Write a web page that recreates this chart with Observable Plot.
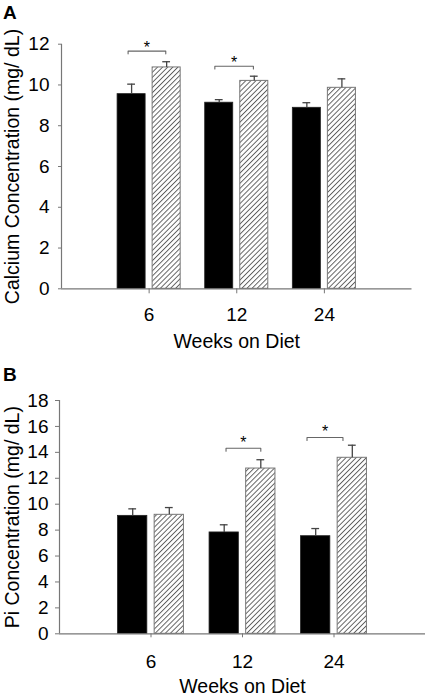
<!DOCTYPE html>
<html><head><meta charset="utf-8">
<script src="https://cdn.jsdelivr.net/npm/d3@7"></script>
<script src="https://cdn.jsdelivr.net/npm/@observablehq/plot@0.6"></script>
<style>
body{margin:0;background:#fff;font-family:"Liberation Sans",Arial,sans-serif;}
#wrap{position:relative;width:425px;height:697px;overflow:hidden;}
.panel{position:absolute;left:0;}
.tag{position:absolute;left:3px;font-weight:bold;font-size:19px;line-height:1;z-index:2;}
svg{display:block;}
</style></head><body>
<div id="wrap">
<div id="pA" class="panel" style="top:0"></div>
<div id="pB" class="panel" style="top:355px"></div>
<div class="tag" style="top:3px">A</div>
<div class="tag" style="top:365px">B</div>
</div>
<script>
// ---- data ----
const weeks = ["6", "12", "24"];
const xLabel = "Weeks on Diet";

// Panel A: calcium
const caLabel = "Calcium Concentration (mg/ dL)";
const caTicks = [0, 2, 4, 6, 8, 10, 12];
const caControl = [9.55, 9.13, 8.88];
const caControlErr = [0.49, 0.15, 0.25];
const caDiet = [10.86, 10.20, 9.86];
const caDietErr = [0.28, 0.23, 0.44];
const caSigWeek = [1, 2];          // index position of week (1 = 6 wk)
const caSigFrom = [-0.24, -0.25];
const caSigTo = [0.19, 0.19];
const caSigY = [11.66, 10.92];

// Panel B: Pi
const piLabel = "Pi Concentration (mg/ dL)";
const piTicks = [0, 2, 4, 6, 8, 10, 12, 14, 16, 18];
const piControl = [9.10, 7.82, 7.53];
const piControlErr = [0.54, 0.59, 0.59];
const piDiet = [9.18, 12.75, 13.58];
const piDietErr = [0.56, 0.68, 0.97];
const piSigWeek = [2, 3];
const piSigFrom = [-0.18, -0.295];
const piSigTo = [0.20, 0.098];
const piSigY = [14.32, 15.15];

function panel(o) {
  const rows = weeks.map((w, i) => ({
    c: i + 1, control: o.control[i], controlTop: o.control[i] + o.controlErr[i],
    diet: o.diet[i], dietTop: o.diet[i] + o.dietErr[i]
  }));
  const plotH = o.height - o.marginTop - o.marginBottom;
  const plotW = 425 - o.marginLeft - o.marginRight;
  const yMax = o.ticks[o.ticks.length - 1];
  const drop = o.dropPx * yMax / plotH;
  const cap = 3.9 * 4 / plotW;
  const sig = o.sigWeek.map((c, i) => ({
    id: i, x1: c + o.sigFrom[i], x2: c + o.sigTo[i], y: o.sigY[i]
  }));
  const bracketPts = sig.flatMap(s => [
    {id: s.id, x: s.x1, y: s.y - drop}, {id: s.id, x: s.x1, y: s.y},
    {id: s.id, x: s.x2, y: s.y}, {id: s.id, x: s.x2, y: s.y - drop}
  ]);
  const errs = rows.flatMap(d => [
    {x: d.c - 0.2, y1: d.control, y2: d.controlTop},
    {x: d.c + 0.2, y1: d.diet, y2: d.dietTop}
  ]);
  const svg = Plot.plot({
    width: 425, height: o.height,
    marginTop: o.marginTop, marginBottom: o.marginBottom,
    marginLeft: o.marginLeft, marginRight: o.marginRight,
    style: {fontFamily: "Liberation Sans, Arial, sans-serif", fontSize: "19px", color: "#000", background: "#fff"},
    x: {domain: [0, 4]},
    y: {domain: [0, yMax]},
    marks: [
      Plot.rect(rows, {x1: d => d.c - 0.36, x2: d => d.c - 0.04, y1: 0, y2: "control", fill: "#000", stroke: "#222", strokeWidth: 0.8}),
      Plot.rect(rows, {x1: d => d.c + 0.04, x2: d => d.c + 0.36, y1: 0, y2: "diet", fill: `url(#hatch${o.id})`, stroke: "#777", strokeWidth: 1}),
      Plot.ruleX(errs, {x: "x", y1: "y1", y2: "y2", stroke: "#444", strokeWidth: 1.3}),
      Plot.ruleY(errs, {y: "y2", x1: d => d.x - cap, x2: d => d.x + cap, stroke: "#444", strokeWidth: 1.3}),
      Plot.line(bracketPts, {x: "x", y: "y", z: "id", stroke: "#666", strokeWidth: 1.1, curve: "linear"}),
      Plot.text(sig, {x: d => (d.x1 + d.x2) / 2, y: "y", text: () => "*", dy: o.starDy, fontSize: 16, fill: "#000", lineAnchor: "middle"}),
      Plot.ruleX([0], {stroke: "#777", strokeWidth: 1.2}),
      Plot.ruleY([0], {stroke: "#777", strokeWidth: 1.2}),
      Plot.axisY({ticks: o.ticks, tickSize: o.yTickSize, tickPadding: o.yTickPad, stroke: "#777", label: null}),
      Plot.axisX({ticks: [1, 2, 3], tickFormat: d => weeks[d - 1], tickSize: o.xTickSize, tickPadding: o.xTickPad, stroke: "#777", label: null}),
      Plot.text([xLabel], {text: d => d, frameAnchor: "bottom", dy: o.xLabelDy, lineAnchor: "bottom", fontSize: 19.5}),
      Plot.text([o.label], {text: d => d, frameAnchor: "left", rotate: -90, dx: -(o.marginLeft - 18.5), lineAnchor: "bottom", textAnchor: "middle", fontSize: 19.5})
    ]
  });
  d3.select(svg).insert("defs", ":first-child").html(
    `<pattern id="hatch${o.id}" width="3.6" height="3.6" patternUnits="userSpaceOnUse" patternTransform="rotate(45)">` +
    `<rect width="3.6" height="3.6" fill="#fff"/><line x1="0.5" y1="0" x2="0.5" y2="3.6" stroke="#555" stroke-width="0.9"/></pattern>`
  );
  return svg;
}

document.getElementById("pA").appendChild(panel({
  id: "A", label: caLabel, ticks: caTicks,
  control: caControl, controlErr: caControlErr, diet: caDiet, dietErr: caDietErr,
  sigWeek: caSigWeek, sigFrom: caSigFrom, sigTo: caSigTo, sigY: caSigY,
  height: 355, marginTop: 43.7, marginBottom: 66.7, marginLeft: 61, marginRight: 13.5,
  dropPx: 2.7, starDy: -3.5, yTickSize: 3, yTickPad: 9, xTickSize: 5, xTickPad: 14, xLabelDy: 59
}));
document.getElementById("pB").appendChild(panel({
  id: "B", label: piLabel, ticks: piTicks,
  control: piControl, controlErr: piControlErr, diet: piDiet, dietErr: piDietErr,
  sigWeek: piSigWeek, sigFrom: piSigFrom, sigTo: piSigTo, sigY: piSigY,
  height: 342, marginTop: 45, marginBottom: 63.7, marginLeft: 59, marginRight: 0,
  dropPx: 3, starDy: -5.5, yTickSize: 4, yTickPad: 7, xTickSize: 4, xTickPad: 17, xLabelDy: 59.3
}));
</script>
</body></html>
